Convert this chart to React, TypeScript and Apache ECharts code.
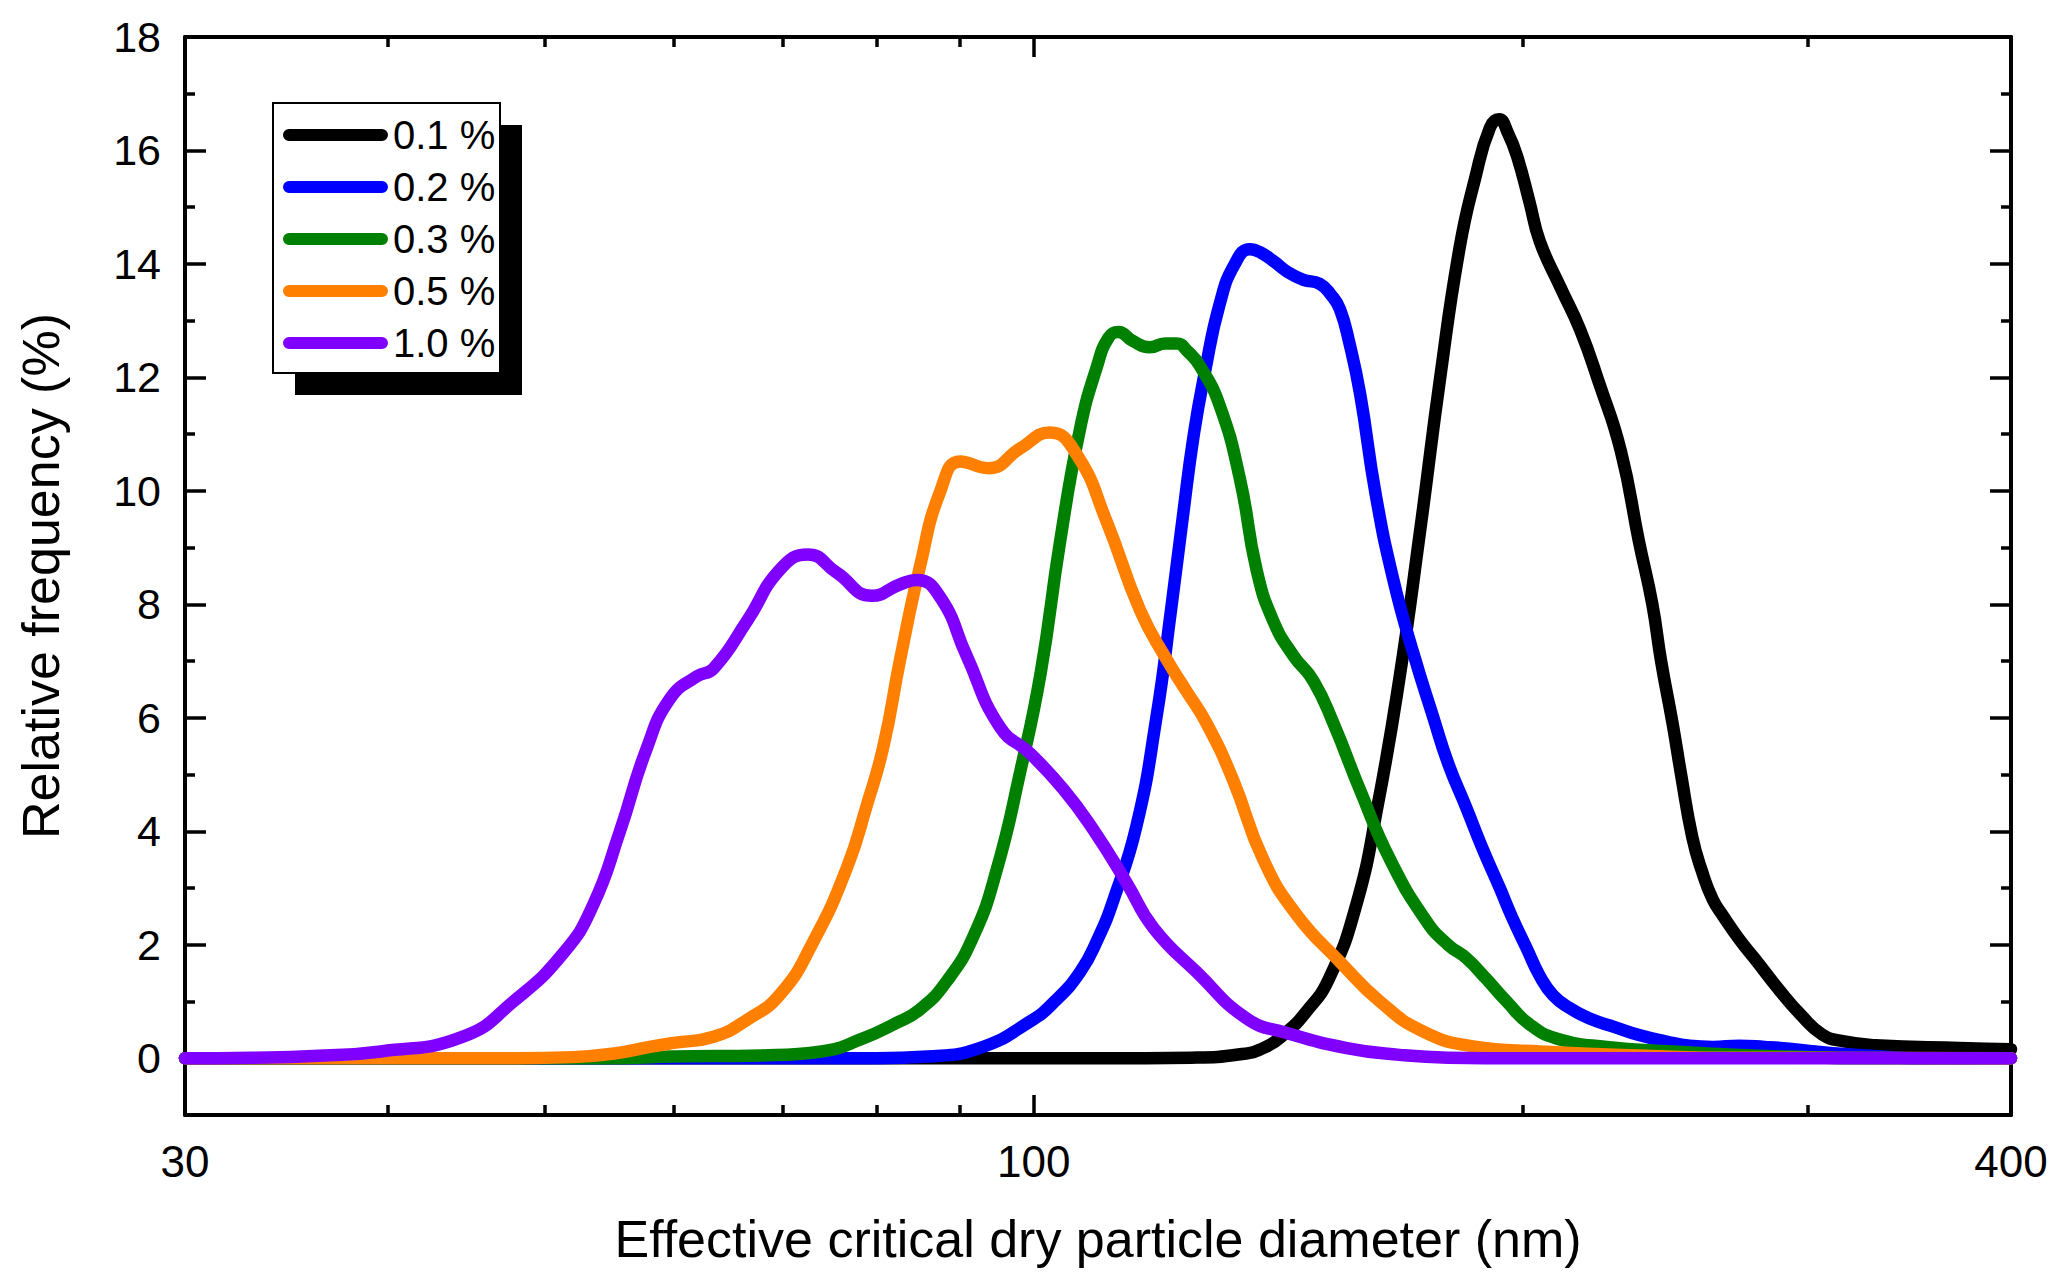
import { useEffect, useRef } from 'react';
import * as echarts from 'echarts';

// legend labels and line colours, in drawing order (last one on top)
const seriesNames = ['0.1 %', '0.2 %', '0.3 %', '0.5 %', '1.0 %'];
const seriesColors = ['#000000', '#0000ff', '#008000', '#ff8000', '#8000ff'];

// [diameter (nm), relative frequency (%)]
const curve01: [number, number][] = [
  [30, 0], [110, 0], [125, 0.01], [134, 0.07], [139, 0.2], [143, 0.45], [147, 0.8],
  [152, 1.4], [158, 2.7], [163, 4.5], [168, 6.7], [173, 9.3], [178, 12.0], [183, 14.3],
  [187, 15.5], [191, 16.4], [193.5, 16.55], [196, 16.3], [198.5, 15.9], [202, 15.1],
  [205, 14.4], [211, 13.6], [217, 12.85], [223, 11.9], [230, 10.7], [236, 9.1],
  [240.5, 8.0], [243.5, 7.0], [247.5, 5.9], [250.5, 5.0], [254.5, 3.9], [258, 3.3],
  [262, 2.8], [266, 2.5], [272, 2.1], [278, 1.76], [288, 1.2], [297, 0.76], [306, 0.42],
  [315, 0.3], [330, 0.23], [372, 0.18], [400, 0.16],
];

const curve02: [number, number][] = [
  [30, 0], [80, 0], [86, 0.03], [92.6, 0.18], [99.5, 0.65], [103, 1.0], [106.8, 1.52],
  [109.5, 2.1], [112, 2.8], [115.7, 4.1], [119, 6.0], [121.5, 7.9], [123.5, 9.5],
  [125.5, 11.0], [127.5, 12.1], [130.2, 13.3], [133, 14.0], [135.9, 14.26], [138, 14.2],
  [140.5, 14.05], [143.5, 13.85], [146.6, 13.72], [150, 13.65], [152.5, 13.45],
  [154.4, 13.2], [156.5, 12.6], [158.9, 11.7], [162.4, 9.95], [166.5, 8.45], [171.3, 7.15],
  [176.3, 6.0], [180, 5.2], [184.8, 4.4], [189, 3.7], [193.7, 3.0], [197, 2.5],
  [201.2, 1.94], [205, 1.45], [208.9, 1.11], [214, 0.88], [220, 0.7], [228, 0.55],
  [236, 0.41], [245, 0.3], [253.6, 0.22], [262, 0.2], [272, 0.22], [282, 0.2],
  [292, 0.17], [303, 0.12], [314, 0.08], [333, 0.03], [350, 0], [400, 0],
];

const curve03: [number, number][] = [
  [30, 0], [55, 0], [60, 0.03], [68, 0.05], [74, 0.12], [78.5, 0.35], [82, 0.6],
  [85, 0.85], [88.4, 1.36], [91.8, 2.15], [94.9, 3.33], [98.1, 5.05], [101, 6.8],
  [103.8, 9.1], [106.8, 11.1], [109.4, 12.2], [111.2, 12.7], [112.8, 12.8], [115, 12.65],
  [117.9, 12.53], [120.5, 12.6], [122.4, 12.6], [124.5, 12.45], [126.6, 12.2],
  [130.2, 11.5], [134, 10.2], [137.2, 8.6], [140.5, 7.7], [144.5, 7.1], [148.7, 6.65],
  [153, 5.9], [158.9, 4.72], [165.8, 3.5], [174.6, 2.41], [180, 2.0], [184.8, 1.76],
  [190, 1.4], [195.6, 1.0], [202, 0.6], [209.9, 0.35], [225.4, 0.2], [247.7, 0.12],
  [270, 0.06], [300, 0.02], [320, 0], [400, 0],
];

const curve05: [number, number][] = [
  [30, 0], [48, 0], [52, 0.02], [55, 0.08], [58, 0.2], [60, 0.27], [63.5, 0.38],
  [66.6, 0.68], [69.8, 1.13], [73.1, 2.04], [76.7, 3.35], [78.9, 4.45], [80.8, 5.5],
  [82.7, 7.0], [85.1, 8.67], [87.6, 10.0], [90.1, 10.52], [93.8, 10.4], [98.1, 10.75],
  [102.3, 11.03], [106.3, 10.64], [110.9, 9.46], [116.3, 7.89], [120.8, 7.02], [124, 6.5],
  [127.8, 5.9], [132.7, 4.9], [138.5, 3.5], [145.2, 2.53], [154.4, 1.7], [163.4, 1.0],
  [173.8, 0.47], [186.5, 0.21], [205, 0.12], [236, 0.05], [260, 0.01], [400, 0],
];

const curve10: [number, number][] = [
  [30, 0], [33, 0.01], [36, 0.04], [39.6, 0.12], [44.5, 0.38], [47.8, 1.0], [51.3, 1.85],
  [53.5, 2.69], [55.6, 4.0], [57.7, 5.43], [59.7, 6.34], [62, 6.73], [63.5, 6.87],
  [66.6, 7.71], [69.8, 8.62], [72.6, 8.88], [75.6, 8.56], [79.5, 8.15], [82.7, 8.35],
  [84.7, 8.43], [87.6, 8.12], [90.9, 7.1], [95.3, 5.84], [99.5, 5.37], [104.3, 4.74],
  [108.8, 4.03], [114.1, 3.09], [118.5, 2.3], [126, 1.52], [135.3, 0.7], [143, 0.45],
  [155.9, 0.18], [168, 0.06], [180, 0.01], [200, 0], [400, 0],
];

const curves = [curve01, curve02, curve03, curve05, curve10];

// axis ticks / labels
const xLabelDiameters = [30, 100, 400];
const xMajorTicks = [100];
const xMinorTicks = [40, 50, 60, 70, 80, 90, 200, 300];
const yMajorTicks = [0, 2, 4, 6, 8, 10, 12, 14, 16, 18];
const yMinorTicks = [1, 3, 5, 7, 9, 11, 13, 15, 17];

const FONT = "'Liberation Sans', Arial, sans-serif";
const lg = (d: number) => Math.log10(d);
const X_MIN = lg(30);
const X_MAX = lg(400);

const legendIcon = 'path://M6,0L99,0A6,6,0,0,1,99,12L6,12A6,6,0,0,1,6,0Z';

function xAxisOf(position: string, ticks: number[], len: number, line: boolean) {
  return {
    type: 'value',
    min: X_MIN,
    max: X_MAX,
    position,
    axisLine: { show: line, onZero: false, lineStyle: { color: '#000', width: 4 } },
    axisTick: {
      show: true, inside: true, length: len,
      customValues: ticks.map(lg),
      lineStyle: { color: '#000', width: 3.5 },
    },
    axisLabel: { show: false },
    splitLine: { show: false },
  };
}

function yAxisOf(position: string, ticks: number[], len: number, line: boolean) {
  return {
    type: 'value',
    min: -1,
    max: 18,
    position,
    axisLine: { show: line, onZero: false, lineStyle: { color: '#000', width: 4 } },
    axisTick: {
      show: true, inside: true, length: len,
      customValues: ticks,
      lineStyle: { color: '#000', width: 3.5 },
    },
    axisLabel: { show: false },
    splitLine: { show: false },
  };
}

const App: React.FC = () => {
  const chartRef = useRef<HTMLDivElement>(null);

  useEffect(() => {
    if (!chartRef.current) return;
    const chart = echarts.init(chartRef.current, null, { renderer: 'svg' });

    const xMain: any = xAxisOf('bottom', xMajorTicks, 20, true);
    xMain.axisLabel = {
      show: true,
      customValues: xLabelDiameters.map(lg),
      formatter: (v: number) => String(Math.round(Math.pow(10, v))),
      fontSize: 44,
      color: '#000',
      fontFamily: FONT,
      margin: 24,
    };
    xMain.name = 'Effective critical dry particle diameter (nm)';
    xMain.nameLocation = 'middle';
    xMain.nameGap = 98;
    xMain.nameTextStyle = { fontSize: 52, color: '#000', fontFamily: FONT };

    const yMain: any = yAxisOf('left', yMajorTicks, 21, true);
    yMain.axisLabel = {
      show: true,
      customValues: yMajorTicks,
      fontSize: 43,
      color: '#000',
      fontFamily: FONT,
      margin: 24,
    };
    yMain.name = 'Relative frequency (%)';
    yMain.nameLocation = 'middle';
    yMain.nameRotate = 90;
    yMain.nameGap = 118;
    yMain.nameTextStyle = { fontSize: 52, color: '#000', fontFamily: FONT };

    chart.setOption({
      animation: false,
      textStyle: { fontFamily: FONT },
      grid: { left: 185, right: 56, top: 37, bottom: 172, containLabel: false, outerBoundsMode: 'none' },
      xAxis: [
        xMain,
        xAxisOf('bottom', xMinorTicks, 10, false),
        xAxisOf('top', xMajorTicks, 20, true),
        xAxisOf('top', xMinorTicks, 10, false),
      ],
      yAxis: [
        yMain,
        yAxisOf('left', yMinorTicks, 10, false),
        yAxisOf('right', yMajorTicks, 21, true),
        yAxisOf('right', yMinorTicks, 10, false),
      ],
      legend: {
        orient: 'vertical',
        left: 283,
        top: 115,
        padding: 0,
        z: 10,
        itemWidth: 105,
        itemHeight: 13,
        itemGap: 12,
        icon: legendIcon,
        itemStyle: { borderWidth: 0 },
        textStyle: { fontSize: 40, lineHeight: 40, color: '#000', fontFamily: FONT },
        data: seriesNames,
      },
      graphic: [
        { type: 'rect', z: 3, shape: { x: 295, y: 125, width: 227, height: 270 }, style: { fill: '#000' } },
        {
          type: 'rect', z: 3, shape: { x: 273, y: 103, width: 227, height: 270 },
          style: { fill: '#fff', stroke: '#000', lineWidth: 2 },
        },
      ],
      series: curves.map((c, i) => ({
        name: seriesNames[i],
        type: 'line',
        xAxisIndex: 0,
        yAxisIndex: 0,
        data: c.map(([d, v]) => [lg(d), v]),
        symbol: 'none',
        showSymbol: false,
        smooth: 0.5,
        color: seriesColors[i],
        lineStyle: { color: seriesColors[i], width: 12.5, cap: 'round', join: 'round' },
        z: 2 + i * 0.01,
      })),
    } as any);

    return () => {
      if (!chart.isDisposed()) chart.dispose();
    };
  }, []);

  return (
    <div
      ref={chartRef}
      style={{ position: 'fixed', left: 0, top: 0, width: '2067px', height: '1287px', background: '#fff' }}
    />
  );
};

export default App;
